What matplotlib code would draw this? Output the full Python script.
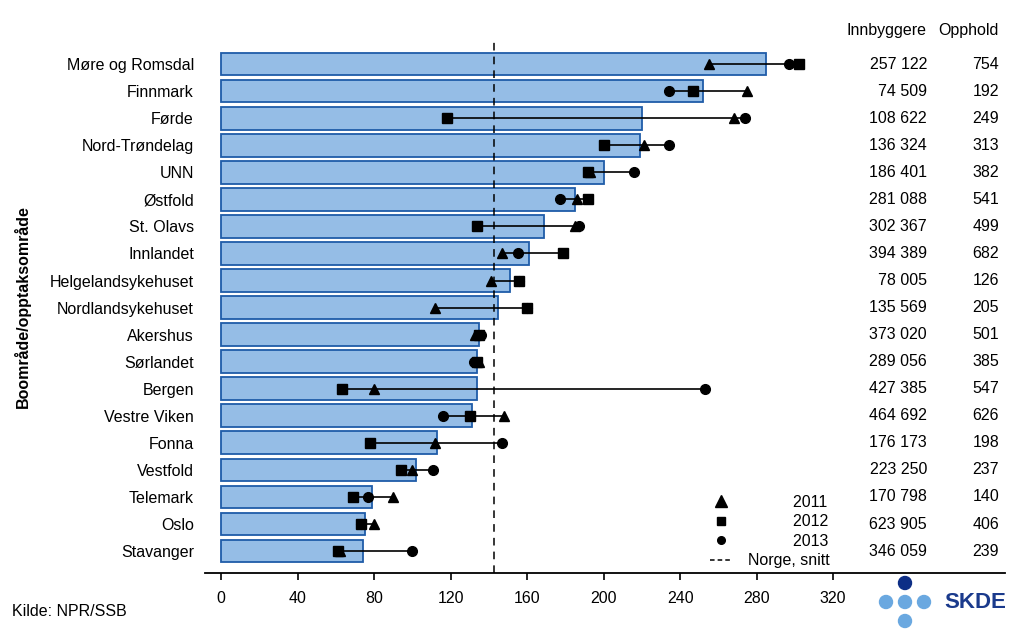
import matplotlib
matplotlib.use('Agg')
import matplotlib.pyplot as plt
from matplotlib.lines import Line2D
from matplotlib.patches import Circle

plt.rcParams['font.family'] = ['Liberation Sans', 'DejaVu Sans']

regions = ['Møre og Romsdal', 'Finnmark', 'Førde', 'Nord-Trøndelag', 'UNN', 'Østfold',
           'St. Olavs', 'Innlandet', 'Helgelandsykehuset', 'Nordlandsykehuset', 'Akershus',
           'Sørlandet', 'Bergen', 'Vestre Viken', 'Fonna', 'Vestfold', 'Telemark', 'Oslo',
           'Stavanger']
snitt = [285, 252, 220, 219, 200, 185, 169, 161, 151, 145, 135, 134, 134, 131, 113, 102, 79, 75, 74]
y2011 = [255, 275, 268, 221, 193, 186, 185, 147, 141, 112, 133, 135, 80, 148, 112, 100, 90, 80, 62]
y2012 = [302, 247, 118, 200, 192, 192, 134, 179, 156, 160, 135, 134, 63, 130, 78, 94, 69, 73, 61]
y2013 = [297, 234, 274, 234, 216, 177, 187, 155, 156, 160, 136, 132, 253, 116, 147, 111, 77, 73, 100]
innbyggere = [257122, 74509, 108622, 136324, 186401, 281088, 302367, 394389, 78005, 135569,
              373020, 289056, 427385, 464692, 176173, 223250, 170798, 623905, 346059]
opphold = [754, 192, 249, 313, 382, 541, 499, 682, 126, 205, 501, 385, 547, 626, 198, 237,
           140, 406, 239]
norge_snitt = 142.6
xticks = [0, 40, 80, 120, 160, 200, 240, 280, 320]

bar_fill = '#95bde6'
bar_edge = '#1f5ca8'
fs = 11.5

fig = plt.figure(figsize=(10.24, 6.4), dpi=100)
ax = fig.add_axes([205 / 1024, 1 - 573 / 640, 800 / 1024, 533 / 640])

ypos = list(range(len(regions)))
ax.barh(ypos, snitt, height=0.84, color=bar_fill, edgecolor=bar_edge, linewidth=1.3, zorder=1)

lo = [min(a, b, c) for a, b, c in zip(y2011, y2012, y2013)]
hi = [max(a, b, c) for a, b, c in zip(y2011, y2012, y2013)]
ax.hlines(ypos, lo, hi, color='black', linewidth=1.2, zorder=3)
ax.plot(y2011, ypos, '^', color='black', markersize=7.5, linestyle='none', zorder=4)
ax.plot(y2012, ypos, 's', color='black', markersize=6.5, linestyle='none', zorder=6)
ax.plot(y2013, ypos, 'o', color='black', markersize=7, linestyle='none', zorder=5)
ax.axvline(norge_snitt, color='black', linestyle=(0, (5, 4)), linewidth=1.1, zorder=2)

ax.set_ylim(len(regions) - 1 + 0.81, -0.89)
ax.set_xlim(-8.4, 409.9)
ax.set_yticks(ypos)
ax.set_yticklabels(regions, fontsize=fs)
ax.tick_params(axis='y', length=0, pad=8)
ax.set_xticks(xticks)
ax.set_xticklabels([str(t) for t in xticks], fontsize=fs)
ax.tick_params(axis='x', direction='out', length=5, width=1.2, pad=8)
for s in ['top', 'left', 'right']:
    ax.spines[s].set_visible(False)
ax.spines['bottom'].set_linewidth(1.3)

ax.set_ylabel('Boområde/opptaksområde', fontsize=fs, fontweight='bold')
ax.yaxis.set_label_coords(-0.218, 0.5)

# tabell til høyre
for i in ypos:
    ax.text(0.9025, i, f'{innbyggere[i]:,}'.replace(',', ' '), fontsize=fs, ha='right',
            va='center', transform=ax.get_yaxis_transform())
    ax.text(0.9925, i, str(opphold[i]), fontsize=fs, ha='right', va='center',
            transform=ax.get_yaxis_transform())
fig.text(927 / 1024, 1 - 30 / 640, 'Innbyggere', fontsize=fs, ha='right', va='center')
fig.text(999 / 1024, 1 - 30 / 640, 'Opphold', fontsize=fs, ha='right', va='center')

handles = [
    Line2D([], [], marker='^', color='black', linestyle='none', markersize=8),
    Line2D([], [], marker='s', color='black', linestyle='none', markersize=5.5),
    Line2D([], [], marker='o', color='black', linestyle='none', markersize=5.5),
    Line2D([], [], color='black', linestyle=(0, (3, 2)), linewidth=1.1),
]
labels = ['          2011', '          2012', '          2013', 'Norge, snitt']
ax.legend(handles, labels, loc='lower right', bbox_to_anchor=(0.795, -0.012), frameon=False,
          fontsize=fs, handlelength=1.4, handletextpad=1.0, labelspacing=0.28,
          borderpad=0.2)

fig.text(12 / 1024, 1 - 611 / 640, 'Kilde: NPR/SSB', fontsize=fs, ha='left', va='center')

# SKDE-logo
lax = fig.add_axes([0, 0, 1, 1], facecolor='none')
lax.set_xlim(0, 1024)
lax.set_ylim(640, 0)
lax.axis('off')
lax.add_patch(Circle((905, 583), 6.5, color='#0d2e86'))
for cx, cy in [(886, 602), (905, 602), (924, 602), (905, 621)]:
    lax.add_patch(Circle((cx, cy), 6.5, color='#6aa8e0'))
lax.text(944, 602, 'SKDE', fontsize=16, fontweight='bold', color='#1a3a8c', ha='left',
         va='center')

fig.savefig('out.png', dpi=100)
